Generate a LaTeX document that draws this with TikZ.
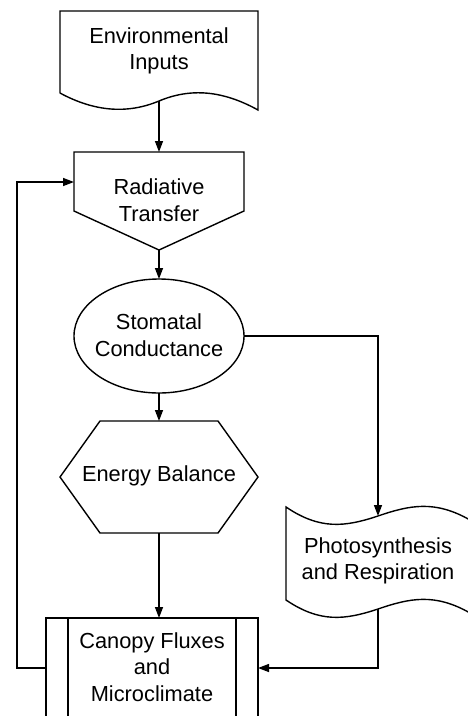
\documentclass[tikz,border=0pt]{standalone}
\usepackage{fontspec}
\setmainfont{Liberation Sans}
\usetikzlibrary{arrows.meta}
\begin{document}
\begin{tikzpicture}[x=1pt,y=-1pt,
  box/.style={draw=black,line width=1.4pt,line join=miter},
  lbl/.style={align=center,font=\fontsize{21.8}{26.5}\selectfont,inner sep=0pt},
  arr/.style={draw=black,line width=1.4pt,-{Triangle[length=11pt,width=8pt]}},
  ln/.style={draw=black,line width=1.4pt}]
\useasboundingbox (0,0) rectangle (468,716);
\fill[white] (0,0) rectangle (468,716);
\begin{scope}
\clip (0,0) rectangle (468,716);
% Environmental Inputs (document)
\draw[box] (60,93) -- (60,11) -- (258,11) -- (258,110)
  .. controls (222,90) and (190,88) .. (159,101)
  .. controls (128,114) and (95,112) .. (60,93);
% Radiative Transfer (off-page)
\draw[box] (74,152) -- (244,152) -- (244,211) -- (159,250) -- (74,211) -- cycle;
% Stomatal Conductance (ellipse)
\draw[box] (159,336) ellipse [x radius=85, y radius=57];
% Energy Balance (hexagon)
\draw[box] (100,421) -- (218,421) -- (258,477) -- (218,533) -- (100,533) -- (60,477) -- cycle;
% Canopy (predefined process)
\draw[box] (46,618) rectangle (258,760);
\draw[ln] (68,618) -- (68,760);
\draw[ln] (236,618) -- (236,760);
% Photosynthesis (tape)
\draw[box] (286,507)
  .. controls (320,530) and (345,527) .. (378,516)
  .. controls (410,505) and (435,500) .. (470,520)
  -- (470,613)
  .. controls (435,593) and (410,598) .. (378,609)
  .. controls (345,620) and (320,623) .. (286,600) -- cycle;
\end{scope}
% labels
\node[lbl] (env) at (159,51) {Environmental\\Inputs};
\node[lbl] (rad) at (159,200) {Radiative\\Transfer};
\node[lbl] (stom) at (159,335) {Stomatal\\Conductance};
\node[lbl] (energy) at (159,476) {Energy Balance};
\node[lbl] (photo) at (378,561) {Photosynthesis\\and Respiration};
\node[lbl] (canopy) at (152,667) {Canopy Fluxes\\and\\Microclimate};
% connection points
\coordinate (envB) at (159,101);
\coordinate (radT) at (159,152);
\coordinate (radL) at (74,182);
\coordinate (radB) at (159,250);
\coordinate (stomT) at (159,279);
\coordinate (stomR) at (244,336);
\coordinate (stomB) at (159,393);
\coordinate (enT) at (159,421);
\coordinate (enB) at (159,533);
\coordinate (canT) at (159,618);
\coordinate (canL) at (46,668);
\coordinate (canR) at (258,668);
\coordinate (phT) at (378,516);
\coordinate (phB) at (378,609);
% connectors
\draw[arr] (envB) -- (radT);
\draw[arr] (radB) -- (stomT);
\draw[arr] (stomB) -- (enT);
\draw[arr] (enB) -- (canT);
\draw[arr] (stomR) -| (phT);
\draw[arr] (phB) |- (canR);
\draw[arr] (canL) -- (17,668) |- (radL);
\end{tikzpicture}
\end{document}
